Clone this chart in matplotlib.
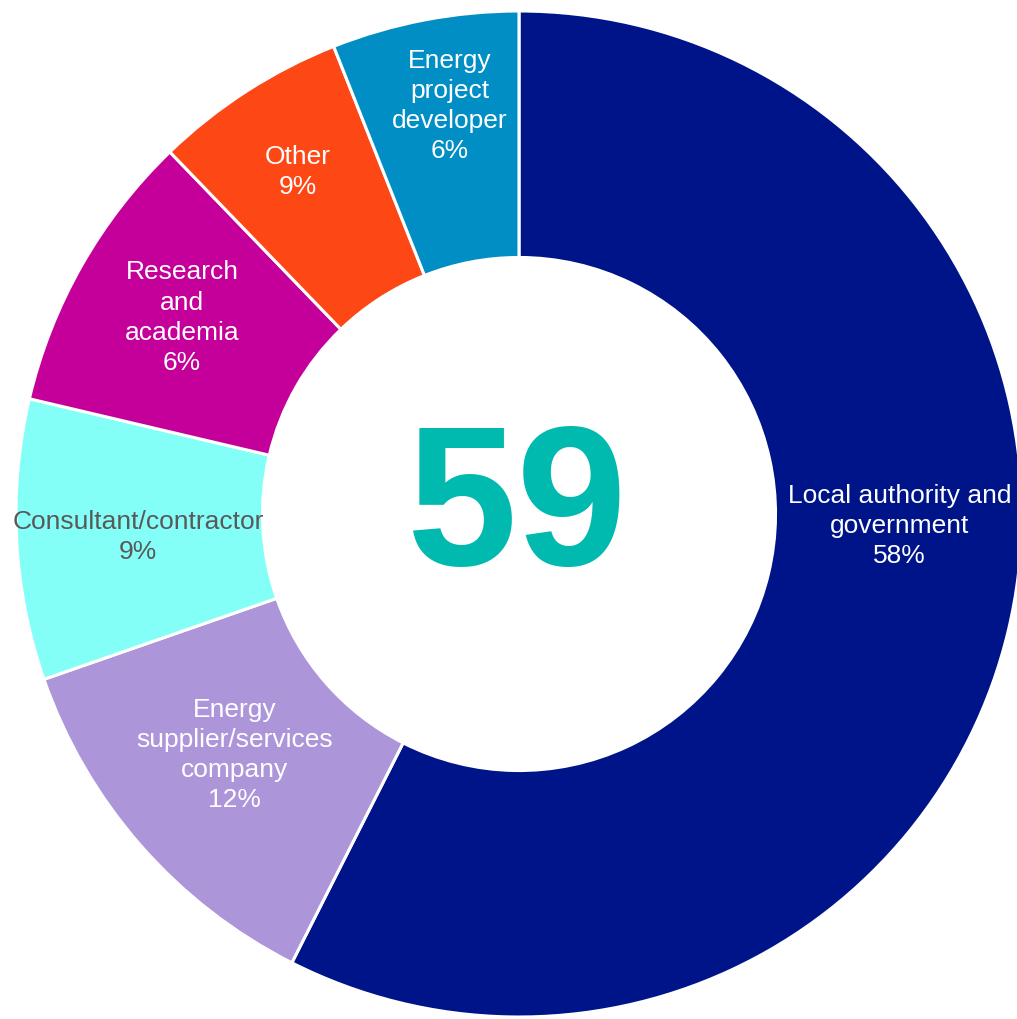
import matplotlib
matplotlib.use("Agg")
import matplotlib.pyplot as plt

categories = ["Local authority and\ngovernment", "Energy\nsupplier/services\ncompany",
              "Consultant/contractor", "Research\nand\nacademia", "Other",
              "Energy\nproject\ndeveloper"]
values = [57.4, 12.2, 9.0, 9.1, 6.2, 6.0]
pct_labels = ["58%", "12%", "9%", "6%", "9%", "6%"]
total_respondents = "59"

colors = ["#001489", "#AD95DA", "#84FFF8", "#C5009A", "#FD4714", "#008EC5"]
text_colors = ["white", "white", "#595959", "white", "white", "white"]
label_pos = [(0.757, -0.024), (-0.565, -0.479), (-0.757, -0.046),
             (-0.67, 0.39), (-0.439, 0.680), (-0.137, 0.811)]

W, H = 1017, 1019
cx, cy, R = 519, 514, 503
fig = plt.figure(figsize=(W / 100, H / 100), dpi=100)
ax = fig.add_axes([0, 0, 1, 1])
ax.pie(values, colors=colors, startangle=90, counterclock=False, radius=1.0,
       wedgeprops=dict(width=0.49, edgecolor="white", linewidth=2.2))
ax.set_aspect("equal")
ax.set_xlim(-cx / R, (W - cx) / R)
ax.set_ylim(-(H - cy) / R, cy / R)
ax.axis("off")

for cat, pct, (x, y), tc in zip(categories, pct_labels, label_pos, text_colors):
    ax.text(x, y, cat + "\n" + pct, ha="center", va="center", color=tc,
            fontsize=19, family="Liberation Sans", linespacing=1.33)

ax.text(-0.004, -0.101, total_respondents, ha="center", va="baseline",
        color="#00B9AF", fontsize=143, fontweight="bold", family="Liberation Sans")

fig.savefig("out.png", dpi=100)
